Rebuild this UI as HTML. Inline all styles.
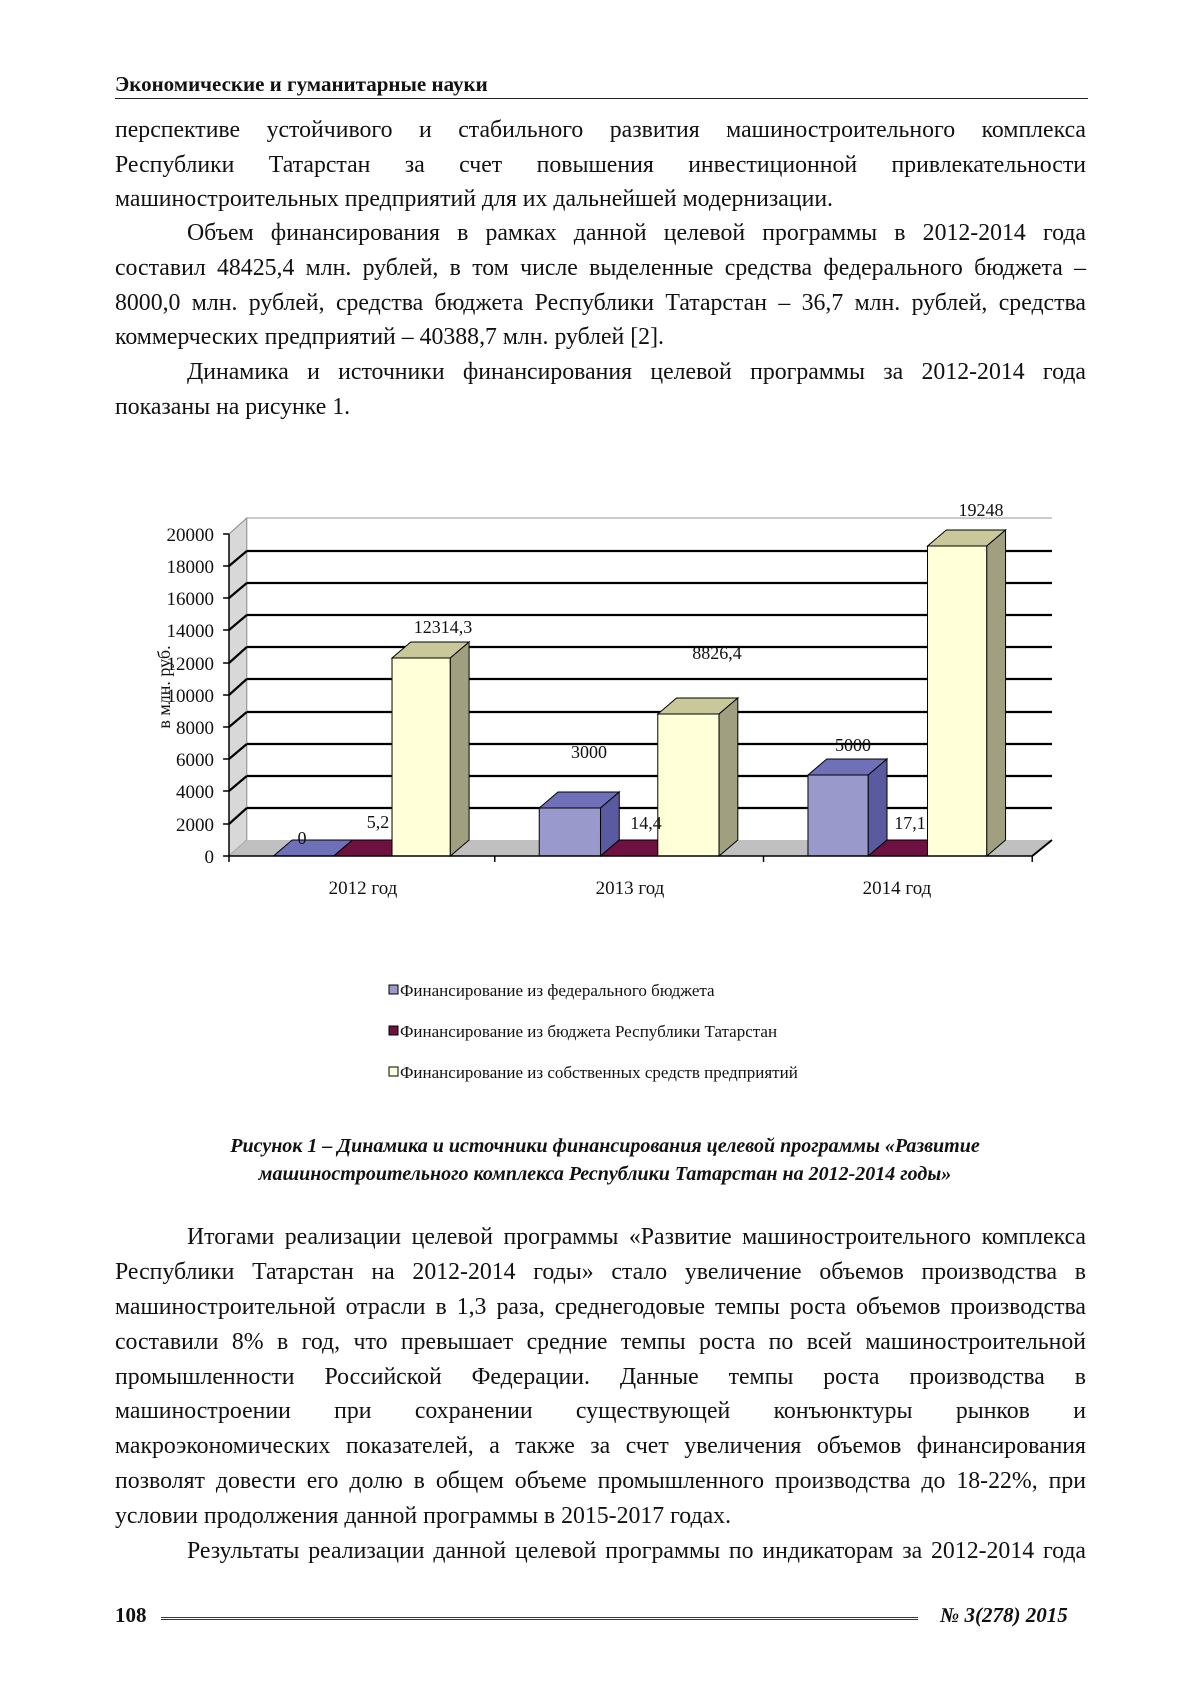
<!DOCTYPE html>
<html><head><meta charset="utf-8"><style>
body{margin:0;background:#fff;}
.pg{position:relative;width:1200px;height:1698px;overflow:hidden;font-family:"Liberation Serif",serif;color:#111;}
.l{position:absolute;left:115px;width:971px;font-size:23.8px;line-height:26px;white-space:nowrap;}
.j{text-align:justify;text-align-last:justify;white-space:normal;}
.i{padding-left:72px;width:899px;}
</style></head><body><div class="pg">
<div style="position:absolute;left:115px;top:72px;font-size:21px;font-weight:bold;">Экономические и гуманитарные науки</div>
<div style="position:absolute;left:115px;top:98px;width:973px;border-top:1.5px solid #222;"></div>

<div class="l j" style="top:117px">перспективе устойчивого и стабильного развития машиностроительного комплекса</div>
<div class="l j" style="top:152px">Республики Татарстан за счет повышения инвестиционной привлекательности</div>
<div class="l" style="top:186px">машиностроительных предприятий для их дальнейшей модернизации.</div>
<div class="l j i" style="top:220px">Объем финансирования в рамках данной целевой программы в 2012-2014 года</div>
<div class="l j" style="top:255px">составил 48425,4 млн. рублей, в том числе выделенные средства федерального бюджета –</div>
<div class="l j" style="top:290px">8000,0 млн. рублей, средства бюджета Республики Татарстан – 36,7 млн. рублей, средства</div>
<div class="l" style="top:324px">коммерческих предприятий – 40388,7 млн. рублей [2].</div>
<div class="l j i" style="top:359px">Динамика и источники финансирования целевой программы за 2012-2014 года</div>
<div class="l" style="top:394px">показаны на рисунке 1.</div>

<svg style="position:absolute;left:0;top:0" width="1200" height="1698" font-family="Liberation Serif, serif" font-size="18">
<g transform="translate(229,0) scale(0.988,1) translate(-232,0)">
<polygon points="232,856 250,840 250,518 232,534" fill="#d8d8d8" stroke="#888" stroke-width="1"/>
<polygon points="232,856 1045,856 1065,840 250,840" fill="#c0c0c0"/>
<line x1="250" y1="518" x2="1065" y2="518" stroke="#999" stroke-width="1"/>
<g stroke="#000" stroke-width="2.2">
<line x1="232" y1="598" x2="250" y2="583"/><line x1="250" y1="583" x2="1065" y2="583"/>
<line x1="232" y1="566" x2="250" y2="551"/><line x1="250" y1="551" x2="1065" y2="551"/>
<line x1="232" y1="630" x2="250" y2="615"/><line x1="250" y1="615" x2="1065" y2="615"/>
<line x1="232" y1="663" x2="250" y2="647"/><line x1="250" y1="647" x2="1065" y2="647"/>
<line x1="232" y1="695" x2="250" y2="679"/><line x1="250" y1="679" x2="1065" y2="679"/>
<line x1="232" y1="727" x2="250" y2="712"/><line x1="250" y1="712" x2="1065" y2="712"/>
<line x1="232" y1="759" x2="250" y2="744"/><line x1="250" y1="744" x2="1065" y2="744"/>
<line x1="232" y1="791" x2="250" y2="776"/><line x1="250" y1="776" x2="1065" y2="776"/>
<line x1="232" y1="824" x2="250" y2="808"/><line x1="250" y1="808" x2="1065" y2="808"/>
</g>
<line x1="1045" y1="856" x2="1065" y2="840" stroke="#000" stroke-width="2"/>
<g stroke="#000" stroke-width="1">
<polygon points="277,856 338,856 357,840 296,840" fill="#7070b8"/>
<polygon points="338,856 397,856 416,840 357,840" fill="#6e1040"/>
<rect x="397" y="658" width="59" height="198" fill="#ffffd8"/>
<polygon points="397,658 416,642 475,642 456,658" fill="#c8c89a"/>
<polygon points="456,658 475,642 475,840 456,856" fill="#a0a080"/>
<rect x="546" y="808" width="62" height="48" fill="#9999cc"/>
<polygon points="546,808 565,792 627,792 608,808" fill="#7070b8"/>
<polygon points="608,808 627,792 627,840 608,856" fill="#5a5aa0"/>
<polygon points="608,856 666,856 685,840 627,840" fill="#6e1040"/>
<rect x="666" y="714" width="62" height="142" fill="#ffffd8"/>
<polygon points="666,714 685,698 747,698 728,714" fill="#c8c89a"/>
<polygon points="728,714 747,698 747,840 728,856" fill="#a0a080"/>
<rect x="818" y="775" width="61" height="81" fill="#9999cc"/>
<polygon points="818,775 837,759 898,759 879,775" fill="#7070b8"/>
<polygon points="879,775 898,759 898,840 879,856" fill="#5a5aa0"/>
<polygon points="879,856 939,856 958,840 898,840" fill="#6e1040"/>
<rect x="939" y="546" width="60" height="310" fill="#ffffd8"/>
<polygon points="939,546 958,530 1018,530 999,546" fill="#c8c89a"/>
<polygon points="999,546 1018,530 1018,840 999,856" fill="#a0a080"/>
</g>
<g stroke="#000" stroke-width="1.5">
<line x1="232" y1="534" x2="232" y2="856"/><line x1="232" y1="856" x2="1045" y2="856"/>
<line x1="226" y1="534" x2="232" y2="534"/><line x1="226" y1="566" x2="232" y2="566"/><line x1="226" y1="598" x2="232" y2="598"/><line x1="226" y1="630" x2="232" y2="630"/><line x1="226" y1="663" x2="232" y2="663"/><line x1="226" y1="695" x2="232" y2="695"/><line x1="226" y1="727" x2="232" y2="727"/><line x1="226" y1="759" x2="232" y2="759"/><line x1="226" y1="791" x2="232" y2="791"/><line x1="226" y1="824" x2="232" y2="824"/><line x1="226" y1="856" x2="232" y2="856"/>
<line x1="232" y1="856" x2="232" y2="862"/><line x1="501" y1="856" x2="501" y2="862"/><line x1="773" y1="856" x2="773" y2="862"/><line x1="1045" y1="856" x2="1045" y2="862"/>
</g>
</g>
<g text-anchor="end" fill="#111" font-size="19">
<text x="214" y="541">20000</text><text x="214" y="573">18000</text><text x="214" y="605">16000</text><text x="214" y="637">14000</text><text x="214" y="670">12000</text><text x="214" y="702">10000</text><text x="214" y="734">8000</text><text x="214" y="766">6000</text><text x="214" y="798">4000</text><text x="214" y="831">2000</text><text x="214" y="863">0</text>
</g>
<text transform="translate(170,687) rotate(-90)" text-anchor="middle" fill="#111">в млн. руб.</text>
<g text-anchor="middle" fill="#111">
<text x="302" y="844">0</text><text x="378" y="828">5,2</text><text x="443" y="633">12314,3</text>
<text x="589" y="758">3000</text><text x="646" y="829">14,4</text><text x="717" y="659">8826,4</text>
<text x="853" y="751">5000</text><text x="910" y="829">17,1</text><text x="981" y="516">19248</text>
<text x="363" y="894" font-size="19">2012 год</text><text x="630" y="894" font-size="19">2013 год</text><text x="897" y="894" font-size="19">2014 год</text>
</g>
<g font-size="17" fill="#111">
<rect x="389" y="985" width="9" height="9" fill="#9999cc" stroke="#000"/><text x="400" y="996">Финансирование из федерального бюджета</text>
<rect x="389" y="1026" width="9" height="9" fill="#6e1040" stroke="#000"/><text x="400" y="1037">Финансирование из бюджета Республики Татарстан</text>
<rect x="389" y="1067" width="9" height="9" fill="#ffffd8" stroke="#000"/><text x="400" y="1078">Финансирование из собственных средств предприятий</text>
</g>
</svg>

<div style="position:absolute;left:0;width:1210px;top:1132px;text-align:center;font-size:20px;font-weight:bold;font-style:italic;line-height:28px;">Рисунок 1 – Динамика и источники финансирования целевой программы «Развитие<br>машиностроительного комплекса Республики Татарстан на 2012-2014 годы»</div>

<div class="l j i" style="top:1224px">Итогами реализации целевой программы «Развитие машиностроительного комплекса</div>
<div class="l j" style="top:1259px">Республики Татарстан на 2012-2014 годы» стало увеличение объемов производства в</div>
<div class="l j" style="top:1294px">машиностроительной отрасли в 1,3 раза, среднегодовые темпы роста объемов производства</div>
<div class="l j" style="top:1329px">составили 8% в год, что превышает средние темпы роста по всей машиностроительной</div>
<div class="l j" style="top:1364px">промышленности Российской Федерации. Данные темпы роста производства в</div>
<div class="l j" style="top:1398px">машиностроении при сохранении существующей конъюнктуры рынков и</div>
<div class="l j" style="top:1433px">макроэкономических показателей, а также за счет увеличения объемов финансирования</div>
<div class="l j" style="top:1468px">позволят довести его долю в общем объеме промышленного производства до 18-22%, при</div>
<div class="l" style="top:1503px">условии продолжения данной программы в 2015-2017 годах.</div>
<div class="l j i" style="top:1538px">Результаты реализации данной целевой программы по индикаторам за 2012-2014 года</div>

<div style="position:absolute;left:115px;top:1603px;font-size:21px;font-weight:bold;">108</div>
<div style="position:absolute;left:161px;top:1617px;width:757px;border-top:3px double #333;"></div>
<div style="position:absolute;left:940px;top:1603px;font-size:21px;font-weight:bold;font-style:italic;">№ 3(278) 2015</div>
</div></body></html>
